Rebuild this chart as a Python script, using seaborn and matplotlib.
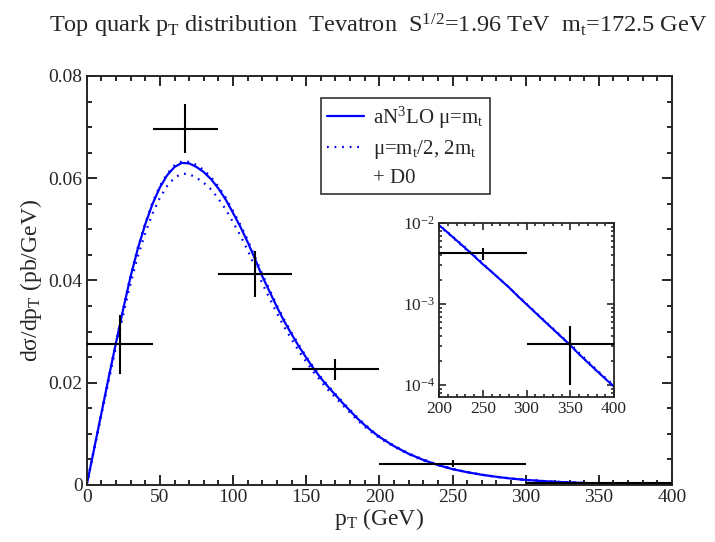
import numpy as np
import pandas as pd
import matplotlib
matplotlib.use("Agg")
import matplotlib.pyplot as plt
import matplotlib.ticker as mticker
from matplotlib.lines import Line2D
import seaborn as sns

# Theory curves: top-quark pT spectrum at the Tevatron
pt = [0, 5, 10, 15, 20, 25, 30, 35, 40, 45, 50, 55, 60, 65, 70, 75, 80, 85, 90, 95,
      100, 105, 110, 115, 120, 125, 130, 135, 140, 145, 150, 155, 160, 165, 170, 175,
      180, 185, 190, 195, 200, 210, 220, 230, 240, 250, 260, 270, 280, 290, 300,
      320, 340, 350, 360, 380, 400]

central = [0, 0.0070, 0.0140, 0.0210, 0.0278, 0.0345, 0.0408, 0.0463, 0.0510, 0.0550,
           0.0582, 0.0606, 0.0622, 0.0630, 0.0629, 0.0622, 0.0612, 0.0598, 0.0580, 0.0558,
           0.0532, 0.0505, 0.0475, 0.0442, 0.0408, 0.0378, 0.0348, 0.0320, 0.0295, 0.0271,
           0.0249, 0.0228, 0.0209, 0.0192, 0.0176, 0.0160, 0.0145, 0.0130, 0.0117, 0.0105,
           0.0094, 0.0076, 0.0061, 0.0049, 0.0039, 0.0031, 0.0025, 0.0020, 0.0016, 0.00125,
           0.00099, 0.00062, 0.00039, 0.00031, 0.00024, 0.00015, 0.000095]

scale_hi = [0, 0.0070, 0.0140, 0.0211, 0.0279, 0.0346, 0.0410, 0.0465, 0.0512, 0.0553,
            0.0585, 0.0609, 0.0625, 0.0633, 0.0632, 0.0626, 0.0616, 0.0602, 0.0584, 0.0562,
            0.0536, 0.0509, 0.0479, 0.0446, 0.0412, 0.0382, 0.0351, 0.0323, 0.0298, 0.0274,
            0.0251, 0.0230, 0.0211, 0.0194, 0.0178, 0.0162, 0.0147, 0.0132, 0.0119, 0.0106,
            0.0095, 0.0077, 0.0062, 0.0050, 0.0040, 0.0032, 0.0025, 0.0020, 0.0016, 0.00127,
            0.00101, 0.00063, 0.00040, 0.00032, 0.00025, 0.000155, 0.000098]

scale_lo = [0, 0.0069, 0.0137, 0.0204, 0.0270, 0.0334, 0.0395, 0.0448, 0.0493, 0.0531,
            0.0562, 0.0585, 0.0601, 0.0609, 0.0608, 0.0601, 0.0591, 0.0578, 0.0560, 0.0539,
            0.0514, 0.0488, 0.0459, 0.0427, 0.0394, 0.0365, 0.0336, 0.0309, 0.0285, 0.0262,
            0.0241, 0.0221, 0.0203, 0.0186, 0.0171, 0.0156, 0.0141, 0.0127, 0.0114, 0.0103,
            0.0092, 0.0075, 0.0060, 0.0048, 0.0039, 0.0031, 0.0025, 0.0020, 0.0016, 0.00125,
            0.00099, 0.00062, 0.00039, 0.00031, 0.00024, 0.00015, 0.000095]

# D0 measurement
bin_lo = [0, 45, 90, 140, 200, 300]
bin_hi = [45, 90, 140, 200, 300, 400]
d0_pt = [22.5, 67.5, 115, 170, 250, 350]
d0_val = [0.0275, 0.0697, 0.0413, 0.0226, 0.0042, 0.00032]
d0_err = [0.0057, 0.0048, 0.0045, 0.0021, 0.0007, 0.00022]

sns.set_style("ticks")
plt.rcParams["font.family"] = ["Liberation Serif", "DejaVu Serif"]
plt.rcParams["mathtext.fontset"] = "custom"
plt.rcParams["mathtext.rm"] = "Liberation Serif"
plt.rcParams["mathtext.it"] = "Liberation Serif:italic"
plt.rcParams["mathtext.bf"] = "Liberation Serif:bold"
plt.rcParams["axes.linewidth"] = 1.4

theory = pd.DataFrame({"pt": pt, "central": central, "hi": scale_hi, "lo": scale_lo})

BLUE = "#0000ff"
DOT = (0, (0.8, 2.6))

fig = plt.figure(figsize=(7.15, 5.42), dpi=100)
ax = fig.add_axes([0.1213, 0.1052, 0.8186, 0.7546])


def draw_theory(a, lw):
    sns.lineplot(data=theory, x="pt", y="central", ax=a, color=BLUE, lw=lw)
    sns.lineplot(data=theory, x="pt", y="hi", ax=a, color=BLUE, lw=lw, linestyle=DOT)
    sns.lineplot(data=theory, x="pt", y="lo", ax=a, color=BLUE, lw=lw, linestyle=DOT)


def draw_data(a, lw):
    xerr = [np.array(d0_pt) - np.array(bin_lo), np.array(bin_hi) - np.array(d0_pt)]
    a.errorbar(d0_pt, d0_val, xerr=xerr, yerr=d0_err, fmt="none",
               ecolor="black", elinewidth=lw, capsize=0, zorder=3)


draw_theory(ax, 1.6)
draw_data(ax, 1.5)

ax.set_xlim(0, 400)
ax.set_ylim(0, 0.08)
ax.xaxis.set_major_locator(mticker.MultipleLocator(50))
ax.xaxis.set_minor_locator(mticker.MultipleLocator(10))
ax.yaxis.set_major_locator(mticker.MultipleLocator(0.02))
ax.yaxis.set_minor_locator(mticker.MultipleLocator(0.005))
ax.yaxis.set_major_formatter(mticker.FuncFormatter(lambda v, p: "0" if abs(v) < 1e-9 else f"{v:.2f}"))
ax.tick_params(which="both", direction="in", top=True, right=True, labelsize=14, width=1.4, pad=3)
ax.tick_params(which="major", length=7)
ax.tick_params(which="minor", length=3.6)
ax.set_xlabel("p$_{\\rm T}$ (GeV)", fontsize=17, labelpad=0)
ax.set_ylabel("dσ/dp$_{\\rm T}$ (pb/GeV)", fontsize=17, labelpad=3)

handles = [Line2D([], [], color=BLUE, lw=1.6),
           Line2D([], [], color=BLUE, lw=1.6, linestyle=DOT),
           Line2D([], [], color="none", lw=0)]
labels = ["aN$^{3}$LO μ=m$_{\\rm t}$", "μ=m$_{\\rm t}$/2, 2m$_{\\rm t}$", "+ D0"]
leg = ax.legend(handles, labels, loc="upper left", bbox_to_anchor=(0.40, 0.946),
                fontsize=15, frameon=True, fancybox=False, edgecolor="black",
                handlelength=1.75, handletextpad=0.45, labelspacing=0.36,
                borderpad=0.3, borderaxespad=0)
leg.get_frame().set_linewidth(1.2)

fig.text(0.529, 0.952,
         "Top quark p$_{\\rm T}$ distribution  Tevatron  S$^{1/2}$=1.96 TeV  m$_{\\rm t}$=172.5 GeV",
         ha="center", va="center", fontsize=17.5)

# High-pT tail on a log scale
ins = fig.add_axes([0.614, 0.2675, 0.2448, 0.3211])
draw_theory(ins, 1.5)
draw_data(ins, 1.5)
ins.set_yscale("log")
ins.set_xlim(200, 400)
ins.set_ylim(7.1e-5, 1e-2)
ins.xaxis.set_major_locator(mticker.MultipleLocator(50))
ins.xaxis.set_minor_locator(mticker.MultipleLocator(10))
ins.yaxis.set_major_locator(mticker.LogLocator(base=10, numticks=10))
ins.yaxis.set_minor_locator(mticker.LogLocator(base=10, subs=np.arange(2, 10), numticks=10))
ins.yaxis.set_minor_formatter(mticker.NullFormatter())
ins.tick_params(which="both", direction="in", top=True, right=True, labelsize=12.5, width=1.2, pad=3)
ins.tick_params(which="major", length=5)
ins.tick_params(which="minor", length=2.5)
ins.set_xlabel("")
ins.set_ylabel("")
for s in ins.spines.values():
    s.set_linewidth(1.3)

fig.savefig("out.png", dpi=100)
